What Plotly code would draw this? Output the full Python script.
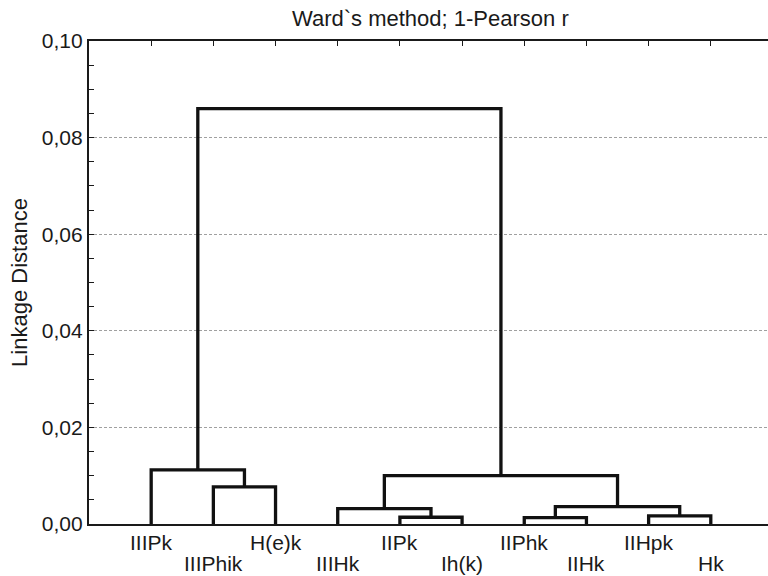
import plotly.graph_objects as go

# ---- data ----
leaf_labels = ["IIIPk", "IIIPhik", "H(e)k", "IIIHk", "IIPk", "Ih(k)",
               "IIPhk", "IIHk", "IIHpk", "Hk"]
# scipy-style linkage: (left id, right id, distance); new clusters get ids 10, 11, ...
merge_left = [1, 0, 4, 3, 6, 8, 14, 13, 11]
merge_right = [2, 10, 5, 12, 7, 9, 15, 16, 17]
merge_height = [0.0077, 0.0112, 0.0014, 0.0032, 0.0013, 0.0017, 0.0036, 0.0100, 0.0860]

title_text = "Ward`s method; 1-Pearson r"
y_title = "Linkage Distance"
y_ticks = [0.00, 0.02, 0.04, 0.06, 0.08, 0.10]

FONT = "Liberation Sans, Arial, sans-serif"
FS = 21

# ---- build dendrogram segments ----
n = len(leaf_labels)
pos = {i: i + 1 for i in range(n)}
hgt = {i: 0.0 for i in range(n)}
xs, ys = [], []
for k, (a, b, h) in enumerate(zip(merge_left, merge_right, merge_height)):
    xa, xb = pos[a], pos[b]
    xs += [xa, xa, xb, xb, None]
    ys += [hgt[a], h, h, hgt[b], None]
    cid = n + k
    pos[cid] = (xa + xb) / 2
    hgt[cid] = h

fig = go.Figure()
fig.add_trace(go.Scatter(x=xs, y=ys, mode="lines",
                         line=dict(color="#111111", width=3.3),
                         hoverinfo="skip", showlegend=False))
# invisible trace to anchor the top axis
fig.add_trace(go.Scatter(x=[1], y=[0], xaxis="x2", mode="markers",
                         marker=dict(opacity=0), hoverinfo="skip", showlegend=False))

# leaf labels, alternating rows
for i, lab in enumerate(leaf_labels):
    fig.add_annotation(x=i + 1, y=0, xref="x", yref="y", text=lab,
                       showarrow=False, xanchor="center", yanchor="middle",
                       yshift=-18 if i % 2 == 0 else -39,
                       font=dict(family=FONT, size=FS, color="#1a1a1a"))

# title centred on the full plot span
fig.add_annotation(x=5.5, y=1, xref="x", yref="paper", text=title_text,
                   showarrow=False, xanchor="center", yanchor="middle", yshift=23,
                   font=dict(family=FONT, size=22, color="#1a1a1a"))

xrange = [0, 10.92]
fig.update_layout(
    width=768, height=576,
    margin=dict(l=89, r=0, t=41, b=52),
    paper_bgcolor="white", plot_bgcolor="white",
    separators=", ",
    font=dict(family=FONT, size=FS, color="#1a1a1a"),
    xaxis=dict(range=xrange, showgrid=False, zeroline=False, showline=True,
               linecolor="#1a1a1a", linewidth=1.5, ticks="", showticklabels=False),
    xaxis2=dict(range=xrange, overlaying="x", side="top", showgrid=False, zeroline=False,
                showline=True, linecolor="#1a1a1a", linewidth=1.5,
                ticks="inside", ticklen=5, tickwidth=1.2, tickcolor="#1a1a1a",
                tickvals=[i + 1 for i in range(n)], showticklabels=False),
    yaxis=dict(range=[0, 0.10], tickvals=y_ticks, tickformat=".2f",
               showgrid=True, gridcolor="#a0a0a0", gridwidth=0.8, griddash="3px,2px",
               zeroline=False, showline=True, linecolor="#1a1a1a", linewidth=2.2,
               ticks="inside", ticklen=5, tickwidth=1.2, tickcolor="#1a1a1a",
               minor=dict(dtick=0.005, ticks="inside", ticklen=5, tickwidth=1.2,
                          tickcolor="#1a1a1a", showgrid=False),
               title=dict(text=y_title, standoff=8,
                          font=dict(family=FONT, size=22, color="#1a1a1a")),
               tickfont=dict(family=FONT, size=FS, color="#1a1a1a")),
)

fig.write_html("out.html")
